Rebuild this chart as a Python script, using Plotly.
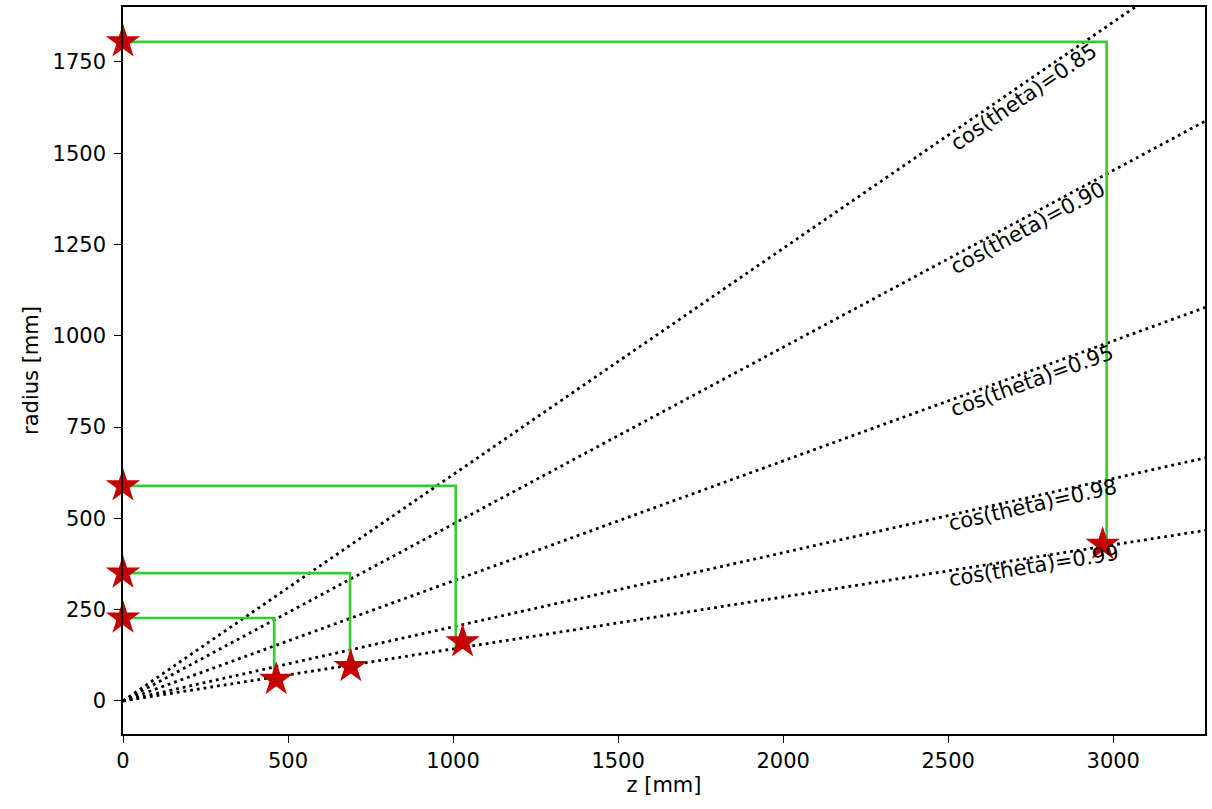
import math
import plotly.graph_objects as go

# ---- data ----
cos_values = [0.85, 0.90, 0.95, 0.98, 0.99]
cos_labels = ["cos(theta)=0.85", "cos(theta)=0.90", "cos(theta)=0.95",
              "cos(theta)=0.98", "cos(theta)=0.99"]
line_z_max = 3400.0          # lines drawn from origin out past the right edge

# green step paths: start radius at z=0, z of vertical drop, radius where drop ends
path_r_start = [1805, 589, 350, 227]
path_z_turn = [2980, 1008, 688, 458]
path_r_end = [430, 140, 100, 70]

# star markers
star_z = [0, 2968, 0, 1029, 0, 690, 0, 464]
star_r = [1805, 429, 589, 162, 350, 94, 227, 59]

x_ticks = [0, 500, 1000, 1500, 2000, 2500, 3000]
y_ticks = [0, 250, 500, 750, 1000, 1250, 1500, 1750]

# ---- layout constants ----
W, H = 1212, 809
ML, MR, MT, MB = 123, 7, 7, 75
X_RANGE = [0, 3278]
Y_RANGE = [-90.5, 1900.5]
FONT = "DejaVu Sans"
FS = 21

sx = (W - ML - MR) / (X_RANGE[1] - X_RANGE[0])   # px per unit
sy = (H - MT - MB) / (Y_RANGE[1] - Y_RANGE[0])

fig = go.Figure()

# dotted cos(theta) lines
for c in cos_values:
    t = math.sqrt(1 - c * c) / c
    fig.add_trace(go.Scatter(
        x=[0, line_z_max], y=[0, line_z_max * t], mode="lines",
        line=dict(color="black", width=2.8, dash="2.8px,4px"),
        hoverinfo="skip", showlegend=False))

# green step paths
for r0, zt, r1 in zip(path_r_start, path_z_turn, path_r_end):
    fig.add_trace(go.Scatter(
        x=[0, zt, zt], y=[r0, r0, r1], mode="lines",
        line=dict(color="#32cd32", width=2.6),
        hoverinfo="skip", showlegend=False))

# stars
fig.add_trace(go.Scatter(
    x=star_z, y=star_r, mode="markers",
    marker=dict(symbol="star", size=26, color="#c40000",
                line=dict(width=0)),
    cliponaxis=False, showlegend=False))

# rotated labels (bbox lower-left at z=2500, 50 mm under the line)
label_z0 = 2500
label_drop = 50
L_px, h_px = 170.0, 20.0
for c, txt in zip(cos_values, cos_labels):
    t = math.sqrt(1 - c * c) / c
    ang = math.atan(t * sy / sx)
    bw = L_px * math.cos(ang) + h_px * math.sin(ang)
    bh = L_px * math.sin(ang) + h_px * math.cos(ang)
    r0 = label_z0 * t - label_drop
    zc = label_z0 + (bw / 2) / sx
    rc = r0 + (bh / 2) / sy
    fig.add_annotation(x=zc, y=rc, text=txt, showarrow=False,
                       textangle=-math.degrees(ang),
                       xanchor="center", yanchor="middle",
                       font=dict(family=FONT, size=FS, color="black"))

axis_common = dict(
    showgrid=False, zeroline=False, showline=True, linecolor="black",
    linewidth=1.5, mirror=True, ticks="outside", ticklen=7, tickwidth=1.3,
    tickcolor="black", tickfont=dict(family=FONT, size=FS, color="black"),
    automargin=False)

fig.update_layout(
    width=W, height=H,
    margin=dict(l=ML, r=MR, t=MT, b=MB),
    paper_bgcolor="white", plot_bgcolor="white",
    font=dict(family=FONT, size=FS, color="black"),
    xaxis=dict(range=X_RANGE, tickvals=x_ticks,
               ticktext=[str(v) for v in x_ticks],
               title=dict(text="z [mm]", standoff=4,
                          font=dict(family=FONT, size=FS, color="black")),
               **axis_common),
    yaxis=dict(range=Y_RANGE, tickvals=y_ticks,
               ticktext=[str(v) for v in y_ticks],
               ticklabelstandoff=4,
               title=dict(text="radius [mm]", standoff=8,
                          font=dict(family=FONT, size=FS, color="black")),
               **axis_common),
)

fig.write_html(
    "out.html",
    config={"displayModeBar": False},
    post_script="document.body.style.margin='0px';"
                "document.body.style.overflow='hidden';")
